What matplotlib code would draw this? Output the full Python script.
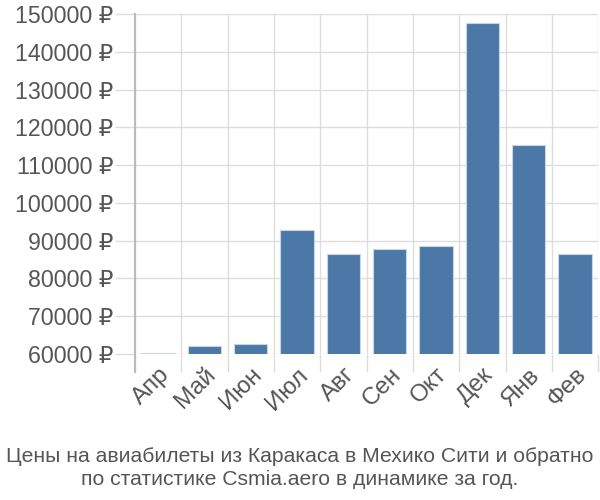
import matplotlib.pyplot as plt

plt.rcParams['font.family'] = ['Liberation Sans', 'DejaVu Sans']

months = ['Апр', 'Май', 'Июн', 'Июл', 'Авг', 'Сен', 'Окт', 'Дек', 'Янв', 'Фев']
prices = [60200, 62000, 62700, 92900, 86500, 87700, 88700, 147500, 115200, 86400]
yticks = [60000, 70000, 80000, 90000, 100000, 110000, 120000, 130000, 140000, 150000]
title = 'Цены на авиабилеты из Каракаса в Мехико Сити и обратно\nпо статистике Csmia.aero в динамике за год.'

fig = plt.figure(figsize=(6, 5), dpi=100)
ax = fig.add_axes([0.225, 0.292, 0.772, 0.68])

x = list(range(len(months)))
ax.bar(x, prices, width=0.72, color='#4c78a8', edgecolor='#c8d6e6', linewidth=0.8, zorder=3)

ax.set_xlim(-0.5, len(months) - 0.5)
ax.set_ylim(60000, 150000)
ax.set_yticks(yticks)
ax.set_yticklabels([f'{v} ₽' for v in yticks])
ax.set_xticks([i + 0.5 for i in x[:-1]] + [-0.5, len(months) - 0.5], minor=True)
ax.set_xticks(x)
ax.set_xticklabels(months, rotation=45, ha='right', rotation_mode='anchor')

ax.grid(axis='y', color='#dddddd', linewidth=1, zorder=0)
ax.grid(axis='x', which='minor', color='#dddddd', linewidth=1, zorder=0)
ax.tick_params(axis='x', which='major', length=0, labelsize=17.5, labelcolor='#555555', pad=7)
ax.tick_params(axis='x', which='minor', length=13, color='#dddddd', width=1)
ax.tick_params(axis='y', length=14.4, color='#dddddd', width=1, labelsize=16.7, labelcolor='#555555', pad=1)

for s in ['top', 'right', 'bottom']:
    ax.spines[s].set_visible(False)
ax.spines['left'].set_color('#bbbbbb')
ax.spines['left'].set_linewidth(1.5)
ax.spines['left'].set_bounds(60000 - 18 / 3.778 * 1000, 150000)
ax.spines['left'].set_clip_on(False)

fig.text(0.5, 0.022, title, ha='center', va='bottom', fontsize=15.2,
         color='#555555', linespacing=1.3)

fig.savefig('out.png', dpi=100)
